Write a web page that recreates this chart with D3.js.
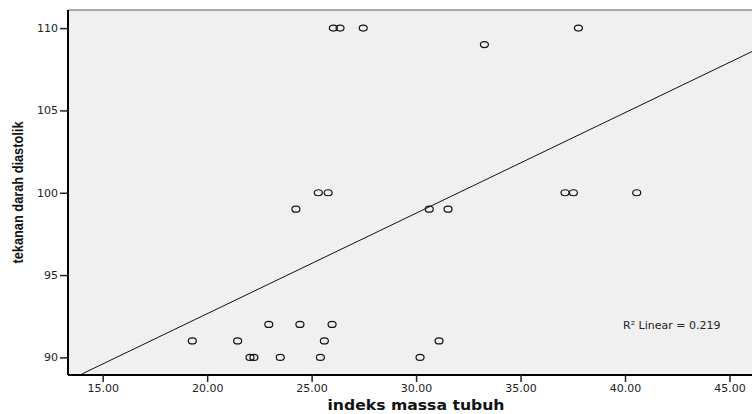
<!DOCTYPE html>
<html>
<head>
<meta charset="utf-8">
<script src="https://cdn.jsdelivr.net/npm/d3@7"></script>
<style>
  html, body { margin: 0; padding: 0; background: #fff; }
</style>
</head>
<body>
<div id="chart"></div>
<script>
const width = 752;
const height = 414;

// indeks massa tubuh (BMI) vs tekanan darah diastolik
const bmi = [26.04, 26.36, 27.47, 37.77, 33.27,
             25.32, 25.79, 24.25, 30.63, 31.53, 37.13, 37.53, 40.56,
             22.95, 24.44, 25.98,
             19.29, 21.46, 25.61, 31.10,
             22.05, 22.24, 23.50, 25.42, 30.19];
const diastolic = [110, 110, 110, 110, 109,
                   100, 100, 99, 99, 99, 100, 100, 100,
                   92, 92, 92,
                   91, 91, 91, 91,
                   90, 90, 90, 90, 90];

const xTicks = [15, 20, 25, 30, 35, 40, 45];
const yTicks = [90, 95, 100, 105, 110];

// fit line
const fitIntercept = 80.44;
const fitSlope = 0.6106;
const r2Label = "R\u00B2 Linear = 0.219";

const plot = { left: 68, top: 10, right: 765, bottom: 375 };

const x = d3.scaleLinear().domain([13.34, 46.7]).range([plot.left, plot.right]);
const y = d3.scaleLinear().domain([88.93, 111.1]).range([plot.bottom, plot.top]);

const svg = d3.select("#chart")
    .append("svg")
    .attr("width", width)
    .attr("height", height)
    .style("font-family", "'DejaVu Sans', sans-serif");

svg.append("defs").append("clipPath")
    .attr("id", "plot-clip")
    .append("rect")
    .attr("x", plot.left)
    .attr("y", plot.top)
    .attr("width", plot.right - plot.left)
    .attr("height", plot.bottom - plot.top);

// plot background + top frame
svg.append("rect")
    .attr("x", plot.left)
    .attr("y", plot.top)
    .attr("width", plot.right - plot.left)
    .attr("height", plot.bottom - plot.top)
    .attr("fill", "#f0f0f0");

svg.append("line")
    .attr("x1", plot.left).attr("x2", plot.right)
    .attr("y1", plot.top).attr("y2", plot.top)
    .attr("stroke", "#5a5a5a")
    .attr("stroke-width", 1.2);

// linear fit line
const xd = x.domain();
svg.append("line")
    .attr("clip-path", "url(#plot-clip)")
    .attr("x1", x(xd[0])).attr("y1", y(fitIntercept + fitSlope * xd[0]))
    .attr("x2", x(xd[1])).attr("y2", y(fitIntercept + fitSlope * xd[1]))
    .attr("stroke", "#111")
    .attr("stroke-width", 1);

// points
svg.append("g")
    .selectAll("ellipse")
    .data(bmi.map((b, i) => [b, diastolic[i]]))
    .enter().append("ellipse")
    .attr("cx", d => x(d[0]))
    .attr("cy", d => y(d[1]))
    .attr("rx", 4)
    .attr("ry", 3)
    .attr("fill", "none")
    .attr("stroke", "#111")
    .attr("stroke-width", 1.2);

// axes
const xAxis = svg.append("g")
    .attr("transform", `translate(0,${plot.bottom})`)
    .call(d3.axisBottom(x).tickValues(xTicks).tickFormat(d3.format(".2f")).tickSize(7).tickPadding(2));

const yAxis = svg.append("g")
    .attr("transform", `translate(${plot.left},0)`)
    .call(d3.axisLeft(y).tickValues(yTicks).tickSize(8).tickPadding(2));

[xAxis, yAxis].forEach(g => {
    g.select(".domain").attr("stroke", "#000").attr("stroke-width", 2);
    g.selectAll(".tick line").attr("stroke", "#222").attr("stroke-width", 1.5);
    g.selectAll(".tick text")
        .attr("fill", "#222")
        .attr("font-size", "11px")
        .attr("font-family", "'DejaVu Sans', sans-serif");
});
yAxis.select(".domain").attr("d", `M0,${plot.top}V${plot.bottom}`);
xAxis.select(".domain").attr("d", `M${plot.left},0H${plot.right}`);

// R squared label
svg.append("text")
    .attr("x", 623)
    .attr("y", 329)
    .attr("fill", "#222")
    .attr("font-size", "11px")
    .text(r2Label);

// axis titles
svg.append("text")
    .attr("x", 416)
    .attr("y", 410)
    .attr("text-anchor", "middle")
    .attr("font-size", "14px")
    .attr("font-weight", "bold")
    .attr("fill", "#111")
    .attr("textLength", 177)
    .attr("lengthAdjust", "spacingAndGlyphs")
    .text("indeks massa tubuh");

svg.append("text")
    .attr("transform", `translate(23,${(plot.top + plot.bottom) / 2}) rotate(-90)`)
    .attr("text-anchor", "middle")
    .attr("font-family", "'Liberation Sans Narrow', 'Liberation Sans', sans-serif")
    .attr("font-size", "15px")
    .attr("font-weight", "bold")
    .attr("fill", "#111")
    .attr("textLength", 142)
    .attr("lengthAdjust", "spacingAndGlyphs")
    .text("tekanan darah diastolik");
</script>
</body>
</html>
